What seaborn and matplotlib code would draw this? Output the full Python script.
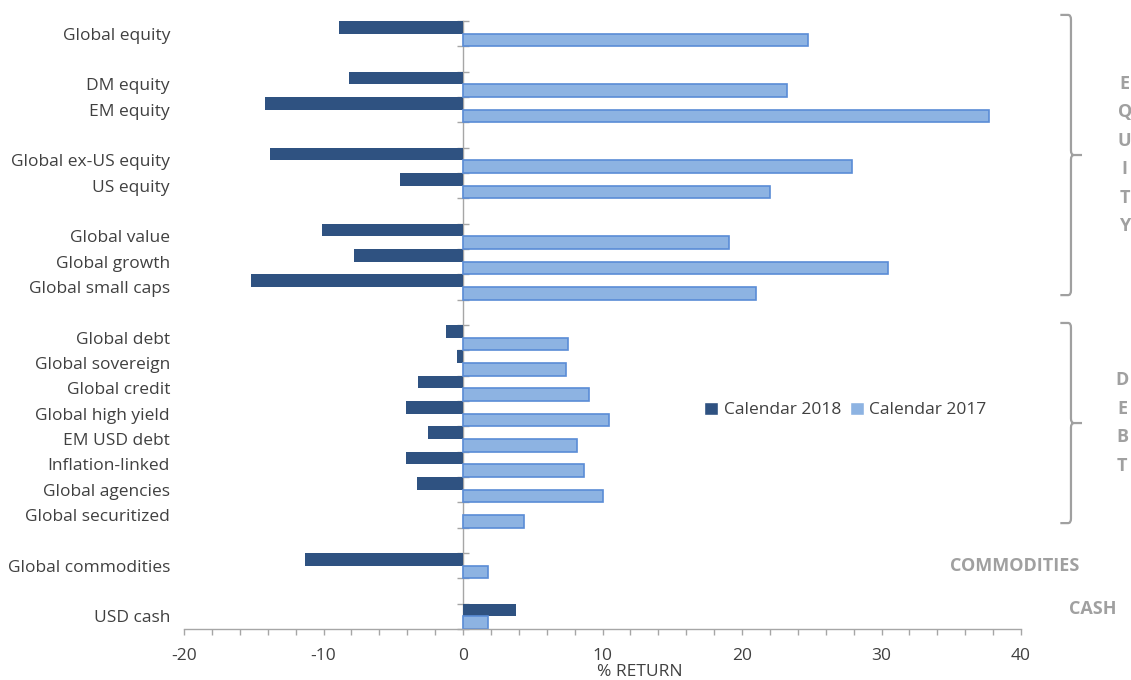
import numpy as np
import pandas as pd
import matplotlib
matplotlib.use("Agg")
import matplotlib.pyplot as plt
import matplotlib.transforms as mtransforms
from matplotlib.path import Path
from matplotlib.patches import PathPatch
import seaborn as sns

# Asset classes (top to bottom) and calendar-year returns in %
categories = [
    "Global equity",
    "DM equity", "EM equity",
    "Global ex-US equity", "US equity",
    "Global value", "Global growth", "Global small caps",
    "Global debt", "Global sovereign", "Global credit", "Global high yield",
    "EM USD debt", "Inflation-linked", "Global agencies", "Global securitized",
    "Global commodities",
    "USD cash",
]
returns_2018 = [
    -8.9,
    -8.2, -14.2,
    -13.8, -4.5,
    -10.1, -7.8, -15.2,
    -1.2, -0.4, -3.2, -4.1,
    -2.5, -4.1, -3.3, 0.0,
    -11.3,
    3.8,
]
returns_2017 = [
    24.7,
    23.2, 37.7,
    27.9, 22.0,
    19.1, 30.5, 21.0,
    7.5, 7.4, 9.0, 10.5,
    8.2, 8.7, 10.0, 4.4,
    1.8,
    1.8,
]
series_names = ["Calendar 2018", "Calendar 2017"]
x_ticks = [-20, -10, 0, 10, 20, 30, 40]

# Sub-groups are separated by an empty row
row_groups = [[0], [1, 2], [3, 4], [5, 6, 7], list(range(8, 16)), [16], [17]]

DARK = "#2f5281"
LIGHT = "#8db3e2"
LIGHT_EDGE = "#5a8cd6"
AXIS_GREY = "#a6a6a6"
TEXT = "#404040"
SECTION = "#a0a0a0"
FS = 12.5

sns.set_theme(style="white")
plt.rcParams["font.family"] = ["Open Sans", "DejaVu Sans"]
plt.rcParams["axes.unicode_minus"] = False

# Build category order with spacer rows
order = []
row_pos = {}
spacer = 0
for gi, grp in enumerate(row_groups):
    if gi > 0:
        spacer += 1
        order.append(" " * spacer)
    for i in grp:
        row_pos[categories[i]] = len(order)
        order.append(categories[i])

df = pd.DataFrame({
    "Asset": categories * 2,
    "Return": returns_2018 + returns_2017,
    "Period": [series_names[0]] * len(categories) + [series_names[1]] * len(categories),
})

fig = plt.figure(figsize=(11.31, 6.80), dpi=100)
ax = fig.add_axes([184 / 1131, 1 - 629 / 680, (1021 - 184) / 1131, (629 - 21) / 680])

sns.barplot(
    data=df, x="Return", y="Asset", hue="Period", order=order,
    hue_order=series_names, palette=[DARK, LIGHT], orient="h",
    width=1.0, gap=0, dodge=True, errorbar=None, saturation=1,
    ax=ax,
)

for cont, ec, lw in zip(ax.containers, [DARK, LIGHT_EDGE], [0, 1.2]):
    for bar in cont:
        bar.set_edgecolor(ec)
        bar.set_linewidth(lw)

n = len(order)
ax.set_xlim(-20, 40)
ax.set_ylim(n - 0.5, -0.5)

# Category labels at the far left of the plot area
ax.set_yticks(range(n))
ax.set_yticklabels([lab if lab.strip() else "" for lab in order])
ax.tick_params(axis="y", length=0, pad=10, labelsize=FS, labelcolor=TEXT)
ax.set_ylabel("")

# Value axis
ax.set_xticks(x_ticks)
ax.set_xticks(np.arange(-20, 41, 2), minor=True)
ax.tick_params(axis="x", which="both", direction="out", length=4, width=1,
               color=AXIS_GREY, labelsize=FS, labelcolor=TEXT, pad=10, bottom=True)
ax.set_xlabel("% RETURN", fontsize=FS, color=TEXT, labelpad=3)
ax.xaxis.set_label_coords(0.544, -0.057)
ax.xaxis.label.set_va("top")

for s in ["left", "top", "right"]:
    ax.spines[s].set_visible(False)
ax.spines["bottom"].set_color(AXIS_GREY)
ax.spines["bottom"].set_linewidth(1)

# Category axis crossing at zero, with tick marks between categories
zero_frac = (0 - ax.get_xlim()[0]) / (ax.get_xlim()[1] - ax.get_xlim()[0])
sec = ax.secondary_yaxis(zero_frac)
sec.set_yticks(np.arange(-0.5, n, 1.0))
sec.set_yticklabels([])
sec.tick_params(axis="y", direction="inout", length=9, width=1, color=AXIS_GREY)
for s in sec.spines.values():
    s.set_color(AXIS_GREY)
    s.set_linewidth(1)

# Legend
leg = ax.legend(
    loc="center", bbox_to_anchor=(0.79, 0.36), ncol=2, frameon=False,
    fontsize=FS, handlelength=0.8, handleheight=0.8, handletextpad=0.3,
    columnspacing=0.5, labelcolor=TEXT,
)

# Section brackets and labels on the right
trans = mtransforms.blended_transform_factory(ax.transAxes, ax.transData)


def bracket(y0, y1):
    xh, xv, xn = 1.047, 1.0597, 1.0729
    ym = (y0 + y1) / 2
    r = 0.18
    dx = 0.0035
    verts = [
        (xh, y0), (xv - dx, y0), (xv, y0), (xv, y0 + r),
        (xv, ym - r), (xv, ym), (xv + dx, ym), (xn, ym),
        (xv + dx, ym), (xv, ym), (xv, ym + r),
        (xv, y1 - r), (xv, y1), (xv - dx, y1), (xh, y1),
    ]
    codes = [
        Path.MOVETO, Path.LINETO, Path.CURVE3, Path.CURVE3,
        Path.LINETO, Path.CURVE3, Path.CURVE3, Path.LINETO,
        Path.MOVETO, Path.CURVE3, Path.CURVE3,
        Path.LINETO, Path.CURVE3, Path.CURVE3, Path.LINETO,
    ]
    ax.add_patch(PathPatch(Path(verts, codes), transform=trans, fill=False,
                           edgecolor=SECTION, linewidth=1.6, clip_on=False,
                           capstyle="butt"))


eq_top = row_pos["Global equity"] - 0.74
eq_bot = row_pos["Global small caps"] + 0.32
debt_top = row_pos["Global debt"] - 0.58
debt_bot = row_pos["Global securitized"] + 0.32
bracket(eq_top, eq_bot)
bracket(debt_top, debt_bot)

SEC_FS = 13


def stacked(word, x, yc, step):
    k = len(word)
    for j, ch in enumerate(word):
        ax.text(x, yc + (j - (k - 1) / 2) * step, ch, transform=trans,
                ha="center", va="center", fontsize=SEC_FS, fontweight="bold",
                color=SECTION, clip_on=False)


stacked("EQUITY", 1.124, (eq_top + eq_bot) / 2, 1.125)
stacked("DEBT", 1.1207, (debt_top + debt_bot) / 2, 1.13)
ax.text(0.9928, row_pos["Global commodities"], "COMMODITIES", transform=trans,
        ha="center", va="center", fontsize=SEC_FS, fontweight="bold", color=SECTION,
        clip_on=False)
ax.text(1.086, row_pos["USD cash"] - 0.3, "CASH", transform=trans,
        ha="center", va="center", fontsize=SEC_FS, fontweight="bold", color=SECTION,
        clip_on=False)

fig.savefig("out.png", dpi=100)
